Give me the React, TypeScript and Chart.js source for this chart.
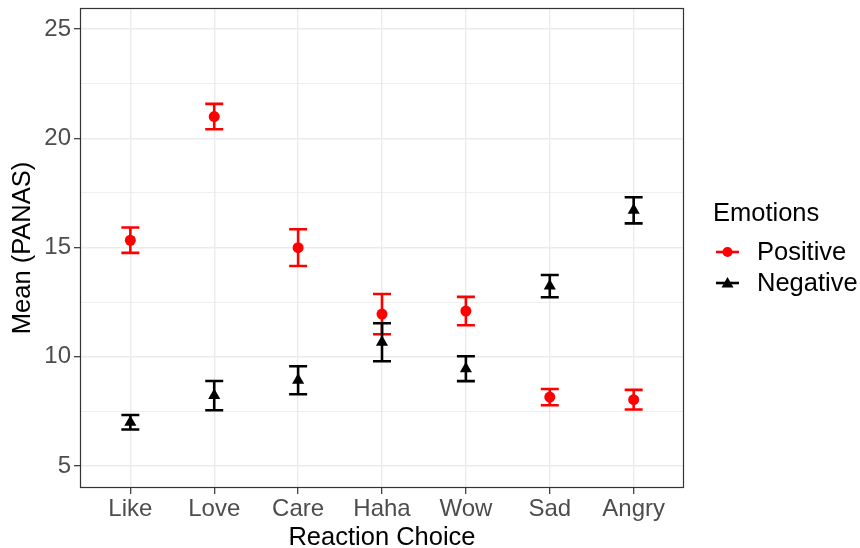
import React, { useEffect, useRef } from "react";
import { Chart, registerables } from "chart.js";

Chart.register(...registerables);

const categories = ["Like", "Love", "Care", "Haha", "Wow", "Sad", "Angry"];
const positiveMean = [15.33, 20.99, 14.99, 11.95, 12.09, 8.15, 8.03];
const positiveErr = [0.58, 0.58, 0.84, 0.92, 0.65, 0.37, 0.45];
const negativeMean = [7.0, 8.22, 8.92, 10.66, 9.45, 13.23, 16.7];
const negativeErr = [0.33, 0.67, 0.64, 0.87, 0.57, 0.51, 0.6];
const yTicks = [5, 10, 15, 20, 25];
const yMinorTicks = [7.5, 12.5, 17.5, 22.5];
const seriesNames = ["Positive", "Negative"];
const legendTitle = "Emotions";

const FONT = "'Liberation Sans', Arial, Helvetica, sans-serif";
const RED = "#FF0000";
const BLACK = "#000000";
const TICK_SIZE = 24;
const TITLE_SIZE = 25.5;

const errorBarPlugin = {
  id: "errorBars",
  beforeDatasetsDraw(chart: any) {
    const ctx = chart.ctx;
    const xs = chart.scales.x;
    const ys = chart.scales.y;
    chart.data.datasets.forEach((ds: any) => {
      const errs: number[] = ds.errors;
      ctx.save();
      ctx.strokeStyle = ds.borderColor;
      ctx.lineWidth = 2.6;
      ds.data.forEach((p: any, i: number) => {
        const x = xs.getPixelForValue(p.x);
        const yHi = ys.getPixelForValue(p.y + errs[i]);
        const yLo = ys.getPixelForValue(p.y - errs[i]);
        const hw = 9;
        ctx.beginPath();
        ctx.moveTo(x, yHi);
        ctx.lineTo(x, yLo);
        ctx.moveTo(x - hw, yHi);
        ctx.lineTo(x + hw, yHi);
        ctx.moveTo(x - hw, yLo);
        ctx.lineTo(x + hw, yLo);
        ctx.stroke();
      });
      ctx.restore();
    });
  },
};

const frameLegendPlugin = {
  id: "frameLegend",
  afterDraw(chart: any) {
    const ctx = chart.ctx;
    const a = chart.chartArea;
    ctx.save();
    ctx.strokeStyle = "#333333";
    ctx.lineWidth = 1.2;
    ctx.strokeRect(a.left + 0.5, a.top + 0.5, a.right - a.left - 1, a.bottom - a.top - 1);

    // legend
    ctx.fillStyle = "#000";
    ctx.font = `${TITLE_SIZE}px ${FONT}`;
    ctx.textBaseline = "middle";
    ctx.textAlign = "left";
    ctx.fillText(legendTitle, 713, 214);
    const rows = [252, 283];
    chart.data.datasets.forEach((ds: any, i: number) => {
      const y = rows[i];
      ctx.strokeStyle = ds.borderColor;
      ctx.fillStyle = ds.backgroundColor;
      ctx.lineWidth = 2.6;
      ctx.beginPath();
      ctx.moveTo(716, y);
      ctx.lineTo(739, y);
      ctx.stroke();
      ctx.beginPath();
      if (ds.pointStyle === "triangle") {
        ctx.moveTo(727.5, y - 6);
        ctx.lineTo(733.5, y + 4.5);
        ctx.lineTo(721.5, y + 4.5);
        ctx.closePath();
      } else {
        ctx.arc(727.5, y, 5, 0, Math.PI * 2);
      }
      ctx.fill();
      ctx.fillStyle = "#000";
      ctx.fillText(seriesNames[i], 757, y + 1);
    });
    ctx.restore();
  },
};

export default function App() {
  const ref = useRef<HTMLCanvasElement | null>(null);
  useEffect(() => {
    if (!ref.current) return;
    const chart = new Chart(ref.current, {
      type: "scatter",
      data: {
        datasets: [
          {
            label: seriesNames[0],
            data: positiveMean.map((v, i) => ({ x: i + 1, y: v })),
            errors: positiveErr,
            borderColor: RED,
            backgroundColor: RED,
            pointStyle: "circle",
            pointRadius: 5.5,
            pointBorderWidth: 0,
          } as any,
          {
            label: seriesNames[1],
            data: negativeMean.map((v, i) => ({ x: i + 1, y: v })),
            errors: negativeErr,
            borderColor: BLACK,
            backgroundColor: BLACK,
            pointStyle: "triangle",
            pointRadius: 7,
            pointBorderWidth: 0,
          } as any,
        ],
      },
      options: {
        responsive: false,
        animation: false,
        devicePixelRatio: 1,
        layout: { padding: { top: 8, right: 176, left: 0, bottom: 0 } },
        plugins: { legend: { display: false }, tooltip: { enabled: false } },
        scales: {
          x: {
            type: "linear",
            min: 0.4,
            max: 7.6,
            afterBuildTicks: (scale: any) => {
              scale.ticks = categories.map((_, i) => ({ value: i + 1 }));
            },
            afterFit: (scale: any) => {
              scale.height = 60;
              scale.paddingLeft = 0;
              scale.paddingRight = 0;
            },
            border: { display: false },
            grid: {
              color: "#EBEBEB",
              lineWidth: 1.4,
              tickColor: "#333333",
              tickLength: 6,
              tickWidth: 1.2,
            },
            ticks: {
              autoSkip: false,
              maxRotation: 0,
              padding: 1,
              color: "#4D4D4D",
              font: { family: FONT, size: TICK_SIZE },
              callback: (v: any) => categories[Math.round(Number(v)) - 1] ?? "",
            },
            title: {
              display: true,
              text: "Reaction Choice",
              color: "#000",
              font: { family: FONT, size: TITLE_SIZE, lineHeight: 0.8 },
              padding: { top: 0, bottom: 0 },
            },
          },
          y: {
            type: "linear",
            min: 3.99,
            max: 25.96,
            afterBuildTicks: (scale: any) => {
              const all = [...yTicks, ...yMinorTicks].sort((a, b) => a - b);
              scale.ticks = all.map((v) => ({ value: v }));
            },
            afterFit: (scale: any) => {
              scale.width = 80;
              scale.paddingTop = 0;
              scale.paddingBottom = 0;
            },
            border: { display: false },
            grid: {
              color: "#EBEBEB",
              lineWidth: (c: any) => (yTicks.includes(c.tick?.value) ? 1.4 : 0.8),
              tickColor: (c: any) => (yTicks.includes(c.tick?.value) ? "#333333" : "rgba(0,0,0,0)"),
              tickLength: 6,
              tickWidth: 1.2,
            },
            ticks: {
              padding: 3,
              color: "#4D4D4D",
              font: { family: FONT, size: TICK_SIZE },
              callback: (v: any) => (yTicks.includes(Number(v)) ? String(v) : ""),
            },
            title: {
              display: true,
              text: "Mean (PANAS)",
              color: "#000",
              font: { family: FONT, size: TITLE_SIZE, lineHeight: 1 },
              padding: { top: 10, bottom: 0 },
            },
          },
        },
      } as any,
      plugins: [errorBarPlugin, frameLegendPlugin],
    });
    return () => chart.destroy();
  }, []);
  return (
    <div style={{ position: "fixed", left: 0, top: 0, width: 860, height: 548, background: "#fff" }}>
      <canvas ref={ref} width={860} height={548} style={{ width: 860, height: 548, display: "block" }} />
    </div>
  );
}
